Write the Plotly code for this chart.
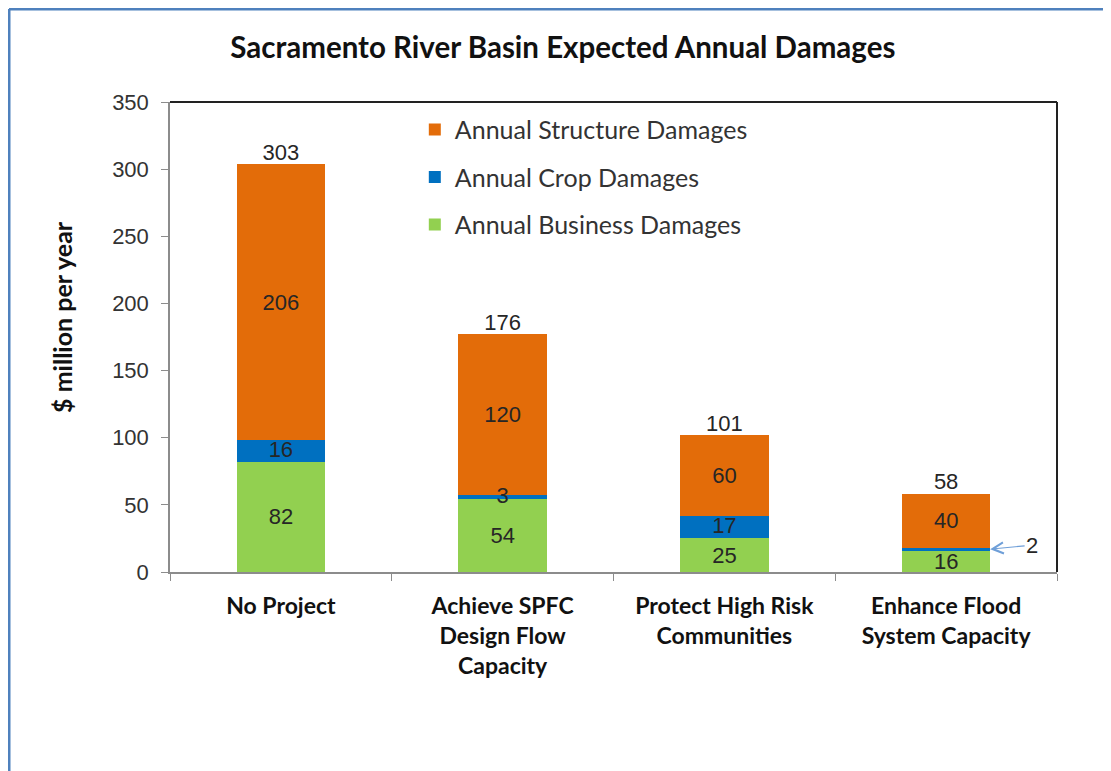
import plotly.graph_objects as go

# data
categories = ["No Project", "Achieve SPFC Design Flow Capacity",
              "Protect High Risk Communities", "Enhance Flood System Capacity"]
tick_labels = ["No Project", "Achieve SPFC<br>Design Flow<br>Capacity",
               "Protect High Risk<br>Communities", "Enhance Flood<br>System Capacity"]
business = [82, 54, 25, 16]
crop = [16, 3, 17, 2]
structure = [206, 120, 60, 40]
totals = [303, 176, 101, 58]

C_STRUCT = "#E36C09"
C_CROP = "#0070C0"
C_BUS = "#92D050"
C_TEXT = "#262626"
NUM_FONT = "Liberation Sans, Arial, sans-serif"
LBL_FONT = "Lato, Carlito, Calibri, sans-serif"
NUM_SIZE = 22

fig = go.Figure()

fig.add_trace(go.Bar(
    x=categories, y=business, name="Annual Business Damages",
    marker=dict(color=C_BUS, line=dict(width=0)),
    text=[str(v) for v in business], textposition="inside", textangle=0,
    insidetextanchor="middle", constraintext="none",
    textfont=dict(family=NUM_FONT, size=NUM_SIZE, color=C_TEXT),
    legendgroup="b", legendrank=3,
))
fig.add_trace(go.Bar(
    x=categories, y=crop, name="Annual Crop Damages",
    marker=dict(color=C_CROP, line=dict(width=0)),
    legendgroup="c", legendrank=2,
))
fig.add_trace(go.Bar(
    x=categories, y=structure, name="Annual Structure Damages",
    marker=dict(color=C_STRUCT, line=dict(width=0)),
    text=[str(v) for v in structure], textposition="inside", textangle=0,
    insidetextanchor="middle", constraintext="none",
    textfont=dict(family=NUM_FONT, size=NUM_SIZE, color=C_TEXT),
    legendgroup="s", legendrank=1,
))
# crop labels drawn on top (thin segments); last one gets an arrow instead
fig.add_trace(go.Scatter(
    x=categories[:3], y=[b + c / 2 for b, c in zip(business[:3], crop[:3])],
    mode="text", text=[str(v) for v in crop[:3]], textposition="middle center",
    textfont=dict(family=NUM_FONT, size=NUM_SIZE, color=C_TEXT),
    showlegend=False, hoverinfo="skip",
))
# totals above bars
fig.add_trace(go.Scatter(
    x=categories, y=totals, mode="text",
    text=[str(v) for v in totals], textposition="top center",
    textfont=dict(family=NUM_FONT, size=NUM_SIZE, color=C_TEXT),
    showlegend=False, hoverinfo="skip", cliponaxis=False,
))

fig.add_annotation(
    x=categories[3], y=business[3] + crop[3] / 2, xshift=44,
    text=str(crop[3]), showarrow=True, ax=42, ay=-4,
    arrowhead=5, arrowsize=1.8, arrowwidth=1.2, arrowcolor="#6F9FD8",
    font=dict(family=NUM_FONT, size=NUM_SIZE, color=C_TEXT),
)

# y axis title (sits a little above the centre, as in the original)
fig.add_annotation(
    xref="paper", yref="paper", x=-0.1218, y=0.5426,
    xanchor="center", yanchor="middle", textangle=-90, showarrow=False,
    text="<b>$ million per year</b>",
    font=dict(family=LBL_FONT, size=25, color="#111"),
)

# top / right border of plot area in black
fig.add_shape(type="line", xref="x domain", yref="y domain",
              x0=0, x1=1, y0=1, y1=1, line=dict(color="#222", width=2))
fig.add_shape(type="line", xref="x domain", yref="y domain",
              x0=1, x1=1, y0=0, y1=1, line=dict(color="#222", width=2))
# blue frame of the page (top and left)
fig.add_shape(type="line", xref="paper", yref="paper",
              x0=-161 / 887, x1=1.1, y0=1 + 93 / 470, y1=1 + 93 / 470,
              line=dict(color="#4F81BD", width=3))
fig.add_shape(type="line", xref="paper", yref="paper",
              x0=-161 / 887, x1=-161 / 887, y0=1 + 93 / 470, y1=-0.45,
              line=dict(color="#4F81BD", width=3))

fig.update_layout(
    width=1103, height=763,
    barmode="stack", bargap=0.6,
    plot_bgcolor="white", paper_bgcolor="white",
    title=dict(
        text="<b>Sacramento River Basin Expected Annual Damages</b>",
        font=dict(family=LBL_FONT, size=29.5, color="#111"),
        x=0.503, xanchor="center", y=0.948, yanchor="middle",
    ),
    legend=dict(
        x=0.276, y=0.99, xanchor="left", yanchor="top",
        traceorder="grouped", tracegroupgap=12,
        font=dict(family=LBL_FONT, size=25, color="#333"),
        bgcolor="rgba(0,0,0,0)",
    ),
    xaxis=dict(
        tickvals=categories, ticktext=tick_labels,
        tickfont=dict(family=LBL_FONT, size=23, color="#111", weight="bold"),
        showline=True, linecolor="#8C8C8C", linewidth=1.5,
        ticks="outside", tickson="boundaries", ticklen=7, tickcolor="#8C8C8C",
        ticklabelstandoff=13, showgrid=False,
    ),
    yaxis=dict(
        range=[0, 350], dtick=50,
        tickfont=dict(family=NUM_FONT, size=NUM_SIZE, color="#333"),
        showline=True, linecolor="#8C8C8C", linewidth=1.5,
        ticks="outside", ticklen=7, tickcolor="#8C8C8C",
        ticklabelstandoff=8, showgrid=False, zeroline=False,
    ),
    margin=dict(t=94, b=199, l=162, r=54),
)

fig.write_html("out.html")
